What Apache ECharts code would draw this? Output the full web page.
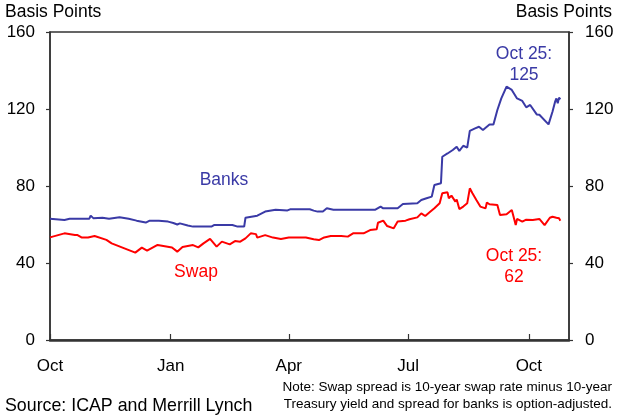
<!DOCTYPE html>
<html><head><meta charset="utf-8">
<script src="https://cdn.jsdelivr.net/npm/echarts@6/dist/echarts.min.js"></script>
<style>html,body{margin:0;padding:0;background:#fff}#c{width:622px;height:418px}</style>
</head><body><div id="c"></div>
<script>
// ---- data ----
const bankDates = ['2006-10-01','2006-10-12','2006-10-16','2006-10-31','2006-11-01','2006-11-03','2006-11-10','2006-11-15','2006-11-23','2006-11-30',
 '2006-12-06','2006-12-13','2006-12-16','2006-12-23','2006-12-30','2007-01-03','2007-01-06','2007-01-08','2007-01-14','2007-01-18',
 '2007-02-01','2007-02-03','2007-02-17','2007-02-21','2007-02-26','2007-02-27','2007-03-08','2007-03-14','2007-03-22','2007-03-31',
 '2007-04-02','2007-04-17','2007-04-20','2007-04-23','2007-04-27','2007-04-30','2007-05-05','2007-06-06','2007-06-10','2007-06-12',
 '2007-06-23','2007-06-27','2007-07-08','2007-07-11','2007-07-15','2007-07-19','2007-07-21','2007-07-26','2007-07-27','2007-07-31',
 '2007-08-04','2007-08-07','2007-08-09','2007-08-12','2007-08-15','2007-08-17','2007-08-21','2007-08-24','2007-08-27','2007-09-01',
 '2007-09-04','2007-09-07','2007-09-10','2007-09-14','2007-09-18','2007-09-22','2007-09-26','2007-09-29','2007-10-02','2007-10-07',
 '2007-10-09','2007-10-16','2007-10-19','2007-10-21','2007-10-22','2007-10-23','2007-10-24','2007-10-25'];
const bankValues = [63,62.3,63,63,64.6,63.3,63.5,63,63.8,63,
 62,61,62,62,61.5,60.8,60,60.6,59.5,58.9,
 58.9,59.7,59.7,58.9,58.9,63.5,64.6,66.7,67.7,67.3,
 67.9,67.9,67.2,66.7,66.7,68.4,67.7,67.7,69.3,68.4,
 68.4,70.6,71,72.7,73.6,74.5,80.5,81.4,95.2,96.9,
 98.7,100.4,98.2,100.9,99.9,108.6,109.9,110.8,109.1,112,
 112,119.5,125.5,131.6,129.9,125.5,124.2,120.9,122.1,117.2,
 117,112,118.6,123.8,125.5,123,125.9,125];

const swapDates = ['2006-10-01','2006-10-12','2006-10-20','2006-10-22','2006-10-25','2006-10-30','2006-11-04','2006-11-13','2006-11-17','2006-12-05',
 '2006-12-10','2006-12-14','2006-12-22','2007-01-02','2007-01-06','2007-01-10','2007-01-18','2007-01-22','2007-01-26','2007-01-31',
 '2007-02-05','2007-02-09','2007-02-15','2007-02-19','2007-02-23','2007-02-27','2007-03-03','2007-03-07','2007-03-08','2007-03-14',
 '2007-03-20','2007-03-26','2007-04-01','2007-04-08','2007-04-14','2007-04-20','2007-04-24','2007-04-28','2007-05-03','2007-05-11',
 '2007-05-16','2007-05-20','2007-05-28','2007-06-02','2007-06-07','2007-06-08','2007-06-12','2007-06-15','2007-06-20','2007-06-23',
 '2007-06-29','2007-07-02','2007-07-08','2007-07-11','2007-07-14','2007-07-18','2007-07-21','2007-07-25','2007-07-27','2007-07-31',
 '2007-08-01','2007-08-03','2007-08-06','2007-08-07','2007-08-09','2007-08-12','2007-08-15','2007-08-17','2007-08-19','2007-08-22',
 '2007-08-25','2007-08-29','2007-08-30','2007-09-01','2007-09-07','2007-09-09','2007-09-14','2007-09-18','2007-09-19','2007-09-21',
 '2007-09-22','2007-09-26','2007-09-29','2007-10-04','2007-10-09','2007-10-13','2007-10-17','2007-10-19','2007-10-22','2007-10-24',
 '2007-10-25'];
const swapValues = [53.3,55.4,54.5,54.5,53.3,53.3,54,52,50.2,45.4,
 48,46.4,49.4,48.1,45.9,48.3,49.3,48.1,50.2,52.5,
 48.5,51.1,49.7,51.4,51.1,52.8,55.4,55,53.2,54.5,
 53.2,52.5,53.2,53.2,53.2,52.3,51.9,53.3,54,54,
 53.7,55.4,55.4,57.1,57.5,60.9,62,59.2,58,61.5,
 62,62.7,63.7,65.8,64.4,66.7,68.4,71,76.2,76.7,
 73.6,75,71.9,73,68,69.3,71,78.8,76.2,72.7,
 69.3,68.4,71.4,70.5,70.1,64.9,65.3,67.5,67.5,59.7,
 62.9,61.5,62.5,62.3,62.9,59.7,63.5,64,63.5,63.2,
 62];

const tickDates = ['2006-10-01','2007-01-01','2007-04-01','2007-07-01','2007-10-01'];
const tickLabels = ['Oct','Jan','Apr','Jul','Oct'];
const yTicks = [0,40,80,120,160];

// ---- helpers ----
function toTs(s){const p=s.split('-').map(Number);return Date.UTC(p[0],p[1]-1,p[2]);}
const tickTs = tickDates.map(toTs);
const DAY = 86400000;
const xMin = toTs('2006-10-01');
const xMax = toTs('2007-10-31') + 0.6*DAY;

const FONT = '"Liberation Sans", Arial, sans-serif';
const BLUE = '#3a3aa6', RED = '#ff0000', AX = '#333';

const chart = echarts.init(document.getElementById('c'), null, {renderer:'canvas'});
const yAxisBase = (pos) => ({
  type:'value', position:pos, min:yTicks[0], max:yTicks[yTicks.length-1], interval:40,
  splitLine:{show:false},
  axisLine:{show:true, lineStyle:{color:AX, width:1.5}},
  axisTick:{show:true, inside:false, length:4, lineStyle:{color:AX, width:1.2}},
  axisLabel:{color:'#000', fontFamily:FONT, fontSize:17, margin:pos==='left'?15:16}
});
chart.setOption({
  animation:false,
  backgroundColor:'#fff',
  grid:{left:50, right:53, top:32, bottom:78, show:true, borderColor:AX, borderWidth:1.5, containLabel:false},
  xAxis:{
    type:'value', min:xMin, max:xMax, scale:true,
    splitLine:{show:false},
    axisLine:{show:true, lineStyle:{color:AX, width:2.5}},
    axisTick:{show:true, inside:true, length:6, customValues:tickTs, lineStyle:{color:AX, width:1.2}},
    axisLabel:{show:true, customValues:tickTs, color:'#000', fontFamily:FONT, fontSize:17, margin:18,
      showMinLabel:true, showMaxLabel:true,
      formatter:(v)=>{const i=tickTs.indexOf(v);return i>=0?tickLabels[i]:'';}}
  },
  yAxis:[yAxisBase('left'), yAxisBase('right')],
  series:[
    {name:'Banks', type:'line', yAxisIndex:0, showSymbol:false, symbol:'none',
     lineStyle:{color:BLUE, width:2}, itemStyle:{color:BLUE},
     data:bankDates.map((d,i)=>[toTs(d), bankValues[i]])},
    {name:'Swap', type:'line', yAxisIndex:0, showSymbol:false, symbol:'none',
     lineStyle:{color:RED, width:2}, itemStyle:{color:RED},
     data:swapDates.map((d,i)=>[toTs(d), swapValues[i]])}
  ],
  graphic:[
    {type:'text', x:5, y:12, style:{text:'Basis Points', font:'17.5px '+FONT, fill:'#000', align:'left', verticalAlign:'middle'}},
    {type:'text', x:612, y:12, style:{text:'Basis Points', font:'17.5px '+FONT, fill:'#000', align:'right', verticalAlign:'middle'}},
    {type:'text', x:224, y:180, style:{text:'Banks', font:'17.5px '+FONT, fill:BLUE, align:'center', verticalAlign:'middle'}},
    {type:'text', x:196, y:272, style:{text:'Swap', font:'17.5px '+FONT, fill:RED, align:'center', verticalAlign:'middle'}},
    {type:'text', x:524, y:65, style:{text:'Oct 25:\n125', font:'17.5px '+FONT, lineHeight:21, fill:BLUE, align:'center', verticalAlign:'middle'}},
    {type:'text', x:514, y:267, style:{text:'Oct 25:\n62', font:'17.5px '+FONT, lineHeight:21, fill:RED, align:'center', verticalAlign:'middle'}},
    {type:'text', x:5, y:406, style:{text:'Source: ICAP and Merrill Lynch', font:'17.8px '+FONT, fill:'#000', align:'left', verticalAlign:'middle'}},
    {type:'text', x:612, y:387, style:{text:'Note: Swap spread is 10-year swap rate minus 10-year', font:'13.5px '+FONT, fill:'#000', align:'right', verticalAlign:'middle'}},
    {type:'text', x:612, y:404, style:{text:'Treasury yield and spread for banks is option-adjusted.', font:'13.5px '+FONT, fill:'#000', align:'right', verticalAlign:'middle'}}
  ]
});
</script>
</body></html>
